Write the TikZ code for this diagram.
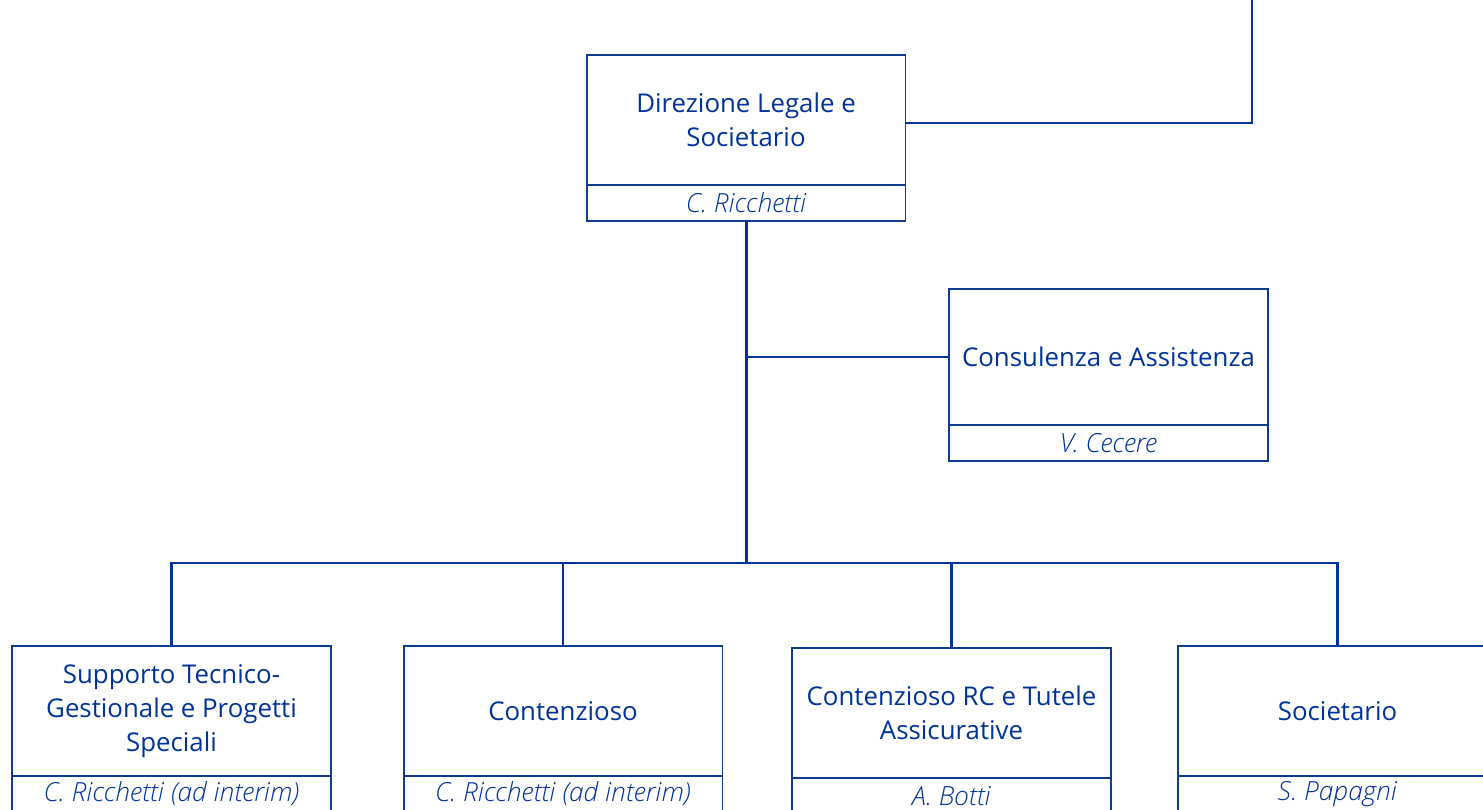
\documentclass[tikz,border=0pt]{standalone}
\usepackage{fontspec}
\setmainfont{Open Sans}
\newfontfamily\namefont{Open Sans Light Italic}
\usetikzlibrary{positioning}
\definecolor{orgtext}{HTML}{003399}
\definecolor{orgline}{HTML}{0B3C8F}

\begin{document}
\begin{tikzpicture}[
  x=0.02cm,y=-0.02cm,
  node distance=0pt,
  every node/.style={font=\fontsize{14.7}{19.3}\selectfont,align=center,text=orgtext,inner sep=2pt,outer sep=0pt},
  unit/.style={draw=orgline,line width=1.1pt,minimum width=6.38cm,minimum height=2.6cm,fill=white},
  head/.style={draw=orgline,line width=1.1pt,minimum width=6.38cm,minimum height=0.72cm,font=\namefont\fontsize{15}{16}\selectfont},
  link/.style={draw=orgtext,line width=1.2pt},
  trunk/.style={draw=orgtext,line width=1.7pt}
]
\useasboundingbox (0,0) rectangle (1483,810);
\clip (0,0) rectangle (1483,810);
% units
\node[unit] (dir) at (746,120) {Direzione Legale e\\Societario};
\node[head,below=of dir] (dirname) {C. Ricchetti};
\node[unit,minimum height=2.72cm] (cons) at (1108.5,357) {Consulenza e Assistenza};
\node[head,below=of cons] (consname) {V. Cecere};
\node[unit] (supp) at (171.5,711) {Supporto Tecnico-\\Gestionale e Progetti\\Speciali};
\node[head,below=of supp] (suppname) {C. Ricchetti (ad interim)};
\node[unit] (cont) at (563,711) {Contenzioso};
\node[head,below=of cont] (contname) {C. Ricchetti (ad interim)};
\node[unit] (rc) at (951.5,713) {Contenzioso RC e Tutele\\Assicurative};
\node[head,below=of rc] (rcname) {A. Botti};
\node[unit] (soc) at (1337.5,711) {Societario};
\node[head,below=of soc] (socname) {S. Papagni};
% connectors
\coordinate (up) at (1252,0);
\coordinate (bus) at (746,563);
\draw[link] ([yshift=-0.06cm]dir.east) -| (up);
\draw[trunk] (dirname.south) -- (bus);
\draw[link] (dirname.south |- cons) -- (cons.west);
\draw[link] (supp.north) |- (bus) -| (soc.north);
\foreach \n in {cont,rc}
  \draw[link] (\n.north) -- (\n.north |- bus);
\end{tikzpicture}
\end{document}
